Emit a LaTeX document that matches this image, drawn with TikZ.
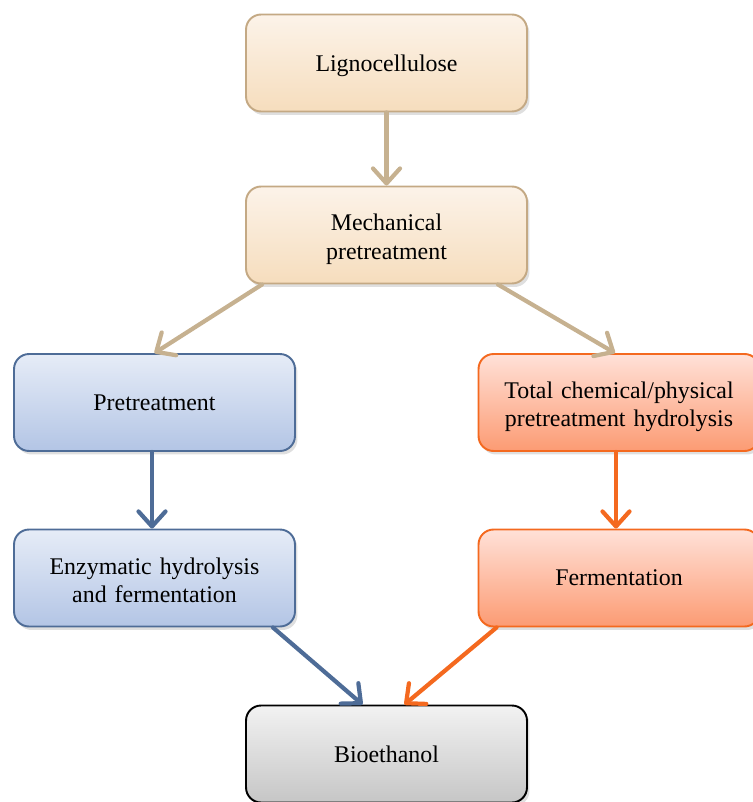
\documentclass[tikz,border=0pt]{standalone}
\usepackage{fontspec}
\setmainfont{Liberation Serif}
\usepackage{tikz}
\usetikzlibrary{arrows.meta,shadows}

\definecolor{tanline}{HTML}{C4A984}
\definecolor{tanarr}{HTML}{C6B190}
\definecolor{tantop}{HTML}{FCF3E9}
\definecolor{tanbot}{HTML}{F6DDBD}
\definecolor{blueline}{HTML}{4E6C97}
\definecolor{bluetop}{HTML}{E6ECF7}
\definecolor{bluebot}{HTML}{B3C5E5}
\definecolor{orline}{HTML}{F4691F}
\definecolor{ortop}{HTML}{FFE1D8}
\definecolor{orbot}{HTML}{FC9B73}
\definecolor{graytop}{HTML}{F2F2F2}
\definecolor{graybot}{HTML}{C6C6C6}

\tikzset{
    box/.style={rounded corners=0.3cm, line width=1.1pt, minimum width=5.62cm,
        minimum height=1.94cm, text width=5.3cm, align=center,
        font=\fontsize{13.6}{16}\selectfont, text depth=-4pt,
        drop shadow={opacity=0.25, shadow xshift=0.05cm, shadow yshift=-0.07cm}},
    twoline/.style={text depth=14pt},
    tanbox/.style={box, draw=tanline, top color=tantop, bottom color=tanbot},
    bluebox/.style={box, draw=blueline, top color=bluetop, bottom color=bluebot},
    orbox/.style={box, draw=orline, top color=ortop, bottom color=orbot},
    graybox/.style={box, draw=black, top color=graytop, bottom color=graybot},
    flow/.style={line width=2.4pt, line cap=round,
        -{Straight Barb[length=0.3cm, width=0.54cm, round]}},
}

\begin{document}
\begin{tikzpicture}[x=0.02cm, y=-0.02cm]
\useasboundingbox (0,0) rectangle (752,802);
% boxes
\node[tanbox] (ligno) at (386.5,63) {Lignocellulose};
\node[tanbox, twoline] (mech) at (386.5,235) {Mechanical\\pretreatment};
\node[bluebox] (pre) at (154.5,402.5) {Pretreatment};
\node[orbox, twoline] (total) at (619,402.5) {Total chemical/physical\\pretreatment hydrolysis};
\node[bluebox, twoline] (enz) at (154.5,578) {Enzymatic hydrolysis\\and fermentation};
\node[orbox] (ferm) at (619,578) {Fermentation};
\node[graybox] (bio) at (386.5,754) {Bioethanol};
% arrows
\draw[flow, tanarr] (ligno.south) -- (mech.north);
\draw[flow, tanarr] ([xshift=0.34cm]mech.south west) -- (pre.north);
\draw[flow, tanarr] ([xshift=-0.6cm]mech.south east) -- ([xshift=-0.08cm]total.north);
\draw[flow, blueline] ([xshift=-0.05cm]pre.south) -- ([xshift=-0.05cm]enz.north);
\draw[flow, orline] ([xshift=-0.06cm]total.south) -- ([xshift=-0.06cm]ferm.north);
\draw[flow, blueline] ([xshift=-0.46cm]enz.south east) -- ([xshift=-0.48cm]bio.north);
\draw[flow, orline] ([xshift=0.38cm]ferm.south west) -- ([xshift=0.36cm]bio.north);
\end{tikzpicture}
\end{document}
